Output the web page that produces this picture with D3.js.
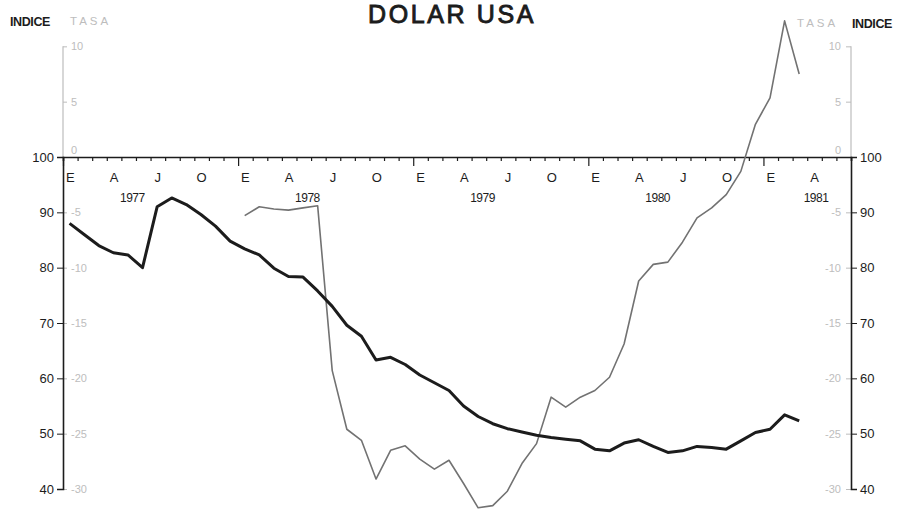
<!DOCTYPE html>
<html>
<head>
<meta charset="utf-8">
<script src="https://cdn.jsdelivr.net/npm/d3@7/dist/d3.min.js"></script>
<style>
  html, body { margin: 0; padding: 0; background: #fff; }
  svg { display: block; }
  text { font-family: "Liberation Sans", Arial, sans-serif; }
</style>
</head>
<body>
<svg id="chart" width="900" height="510"></svg>
<script>
// ---------------- DATA ----------------
const title = "DOLAR USA";
const startYear = 1977;                 // first month of the x axis = Jan 1977
const totalMonths = 54;                 // axis runs Jan 1977 .. Jul 1981
const monthLetters = ["E", "A", "J", "O"];   // Enero, Abril, Julio, Octubre
const monthLetterMonths = [0, 3, 6, 9];
const yearLabels = ["1977", "1978", "1979", "1980", "1981"];
const indiceTicks = [40, 50, 60, 70, 80, 90, 100];
const tasaTicks = [-30, -25, -20, -15, -10, -5, 0, 5, 10];

// INDICE (thick black), monthly from Jan 1977
const indiceValues = [
  88.0, 86.0, 84.0, 82.7, 82.3, 80.0, 91.0, 92.6, 91.4, 89.6, 87.5, 84.8,
  83.4, 82.3, 79.9, 78.4, 78.3, 75.8, 73.0, 69.6, 67.6, 63.3, 63.8, 62.5,
  60.6, 59.2, 57.8, 55.0, 53.1, 51.8, 50.9, 50.3, 49.7, 49.3, 49.0, 48.7,
  47.2, 46.9, 48.3, 48.9, 47.7, 46.6, 46.9, 47.7, 47.5, 47.2, 48.7, 50.2,
  50.8, 53.4, 52.3
];

// TASA (thin grey), monthly from Jan 1978
const tasaStartMonth = 12;
const tasaValues = [
  -5.3, -4.5, -4.7, -4.8, -4.6, -4.4, -19.3, -24.6, -25.6, -29.1, -26.5, -26.1,
  -27.3, -28.2, -27.4, -29.5, -31.7, -31.5, -30.2, -27.7, -25.9, -21.7, -22.6, -21.7,
  -21.1, -19.9, -16.9, -11.2, -9.7, -9.5, -7.7, -5.5, -4.6, -3.4, -1.3, 2.95,
  5.35, 12.3, 7.5
];

// ---------------- CHART ----------------
const svg = d3.select("#chart");
const pLeft = 63, pRight = 851, pTop = 157, pBottom = 489;
const pointOffset = 0.45;

const x = d3.scaleLinear().domain([0, totalMonths]).range([pLeft, pRight]);
const yI = d3.scaleLinear().domain([40, 100]).range([pBottom, pTop]);
const yT = d3.scaleLinear().domain([-30, 0]).range([pBottom, pTop]);

const grey = "#bdbdbd";
const ink = "#1c1c1c";

// title
svg.append("text")
  .attr("x", 452).attr("y", 23)
  .attr("text-anchor", "middle")
  .attr("font-size", 25)
  .attr("letter-spacing", 2.6)
  .attr("fill", ink)
  .attr("stroke", ink)
  .attr("stroke-width", 0.9)
  .text(title);

// axis header labels
svg.append("text").attr("x", 10).attr("y", 26).attr("font-size", 12.5)
  .attr("font-weight", "bold").attr("fill", ink).attr("letter-spacing", -0.4).text("INDICE");
svg.append("text").attr("x", 70).attr("y", 25).attr("font-size", 11.5)
  .attr("letter-spacing", 3).attr("fill", grey).text("TASA");
svg.append("text").attr("x", 797).attr("y", 27).attr("font-size", 11.5)
  .attr("letter-spacing", 3).attr("fill", grey).text("TASA");
svg.append("text").attr("x", 852).attr("y", 28).attr("font-size", 12.5)
  .attr("font-weight", "bold").attr("fill", ink).attr("letter-spacing", -0.4).text("INDICE");

function styleAxis(g, color, fs) {
  g.selectAll("path.domain").attr("stroke", color).attr("stroke-width", 1);
  g.selectAll(".tick line").attr("stroke", color).attr("stroke-width", 1);
  g.selectAll(".tick text").attr("fill", color).attr("font-size", fs)
    .attr("font-family", "Liberation Sans, Arial, sans-serif");
}

// grey TASA axes (drawn first, under black axes)
const tasaFmt = d => (d < 0 ? "-" + Math.abs(d) : String(d));
const tasaMax = d3.max(tasaTicks);
[pLeft, pRight].forEach(px => {
  svg.append("line")
    .attr("x1", px).attr("x2", px)
    .attr("y1", yT(0)).attr("y2", yT(tasaMax))
    .attr("stroke", grey).attr("stroke-width", 1.2);
});
const gTL = svg.append("g").attr("transform", `translate(${pLeft},0)`)
  .call(d3.axisRight(yT).tickValues(tasaTicks).tickSize(4).tickPadding(4).tickFormat(tasaFmt));
styleAxis(gTL, grey, 11);
const gTR = svg.append("g").attr("transform", `translate(${pRight},0)`)
  .call(d3.axisLeft(yT).tickValues(tasaTicks).tickSize(5).tickPadding(5).tickFormat(tasaFmt));
styleAxis(gTR, grey, 11);
[gTL, gTR].forEach(g => g.selectAll(".tick").filter(d => d === 0).select("text").attr("dy", "-0.35em"));

// black INDICE axes
const gIL = svg.append("g").attr("transform", `translate(${pLeft},0)`)
  .call(d3.axisLeft(yI).tickValues(indiceTicks).tickSize(6).tickPadding(3));
styleAxis(gIL, ink, 13);
gIL.selectAll("path.domain").attr("stroke-width", 1.6);
const gIR = svg.append("g").attr("transform", `translate(${pRight},0)`)
  .call(d3.axisRight(yI).tickValues(indiceTicks).tickSize(6).tickPadding(3));
styleAxis(gIR, ink, 13);
gIR.selectAll("path.domain").attr("stroke-width", 1.6);

// top time axis
const monthTicks = d3.range(0, totalMonths + 1);
const gX = svg.append("g").attr("transform", `translate(0,${pTop})`)
  .call(d3.axisBottom(x).tickValues(monthTicks).tickSize(4).tickFormat(""));
gX.select("path.domain").attr("stroke", ink).attr("stroke-width", 1.6);
gX.selectAll(".tick line").attr("stroke", ink).attr("stroke-width", 1.2)
  .attr("y2", d => (d % 12 === 0 ? 9 : 4));

// month letters
const letterData = [];
yearLabels.forEach((yl, yi) => {
  monthLetters.forEach((l, li) => {
    const m = yi * 12 + monthLetterMonths[li] + 0.5;
    if (m < totalMonths - 1) letterData.push({ m, l });
  });
});
svg.append("g").selectAll("text").data(letterData).join("text")
  .attr("x", d => x(d.m)).attr("y", 182)
  .attr("text-anchor", "middle").attr("font-size", 13).attr("fill", ink)
  .text(d => d.l);

// year labels
svg.append("g").selectAll("text").data(yearLabels).join("text")
  .attr("x", (d, i) => x(i * 12 + (i < 4 ? 4.75 : 3.6)))
  .attr("y", 202)
  .attr("text-anchor", "middle").attr("font-size", 12).attr("letter-spacing", -0.5)
  .attr("fill", ink)
  .text(d => d);

// TASA line
const tasaLine = d3.line()
  .x((d, i) => x(tasaStartMonth + i + pointOffset))
  .y(d => yT(d));
svg.append("path").datum(tasaValues)
  .attr("d", tasaLine)
  .attr("fill", "none").attr("stroke", "#727272").attr("stroke-width", 1.6)
  .attr("stroke-linejoin", "round");

// INDICE line
const indLine = d3.line()
  .x((d, i) => x(i + pointOffset))
  .y(d => yI(d));
svg.append("path").datum(indiceValues)
  .attr("d", indLine)
  .attr("fill", "none").attr("stroke", ink).attr("stroke-width", 3)
  .attr("stroke-linejoin", "round");
</script>
</body>
</html>
